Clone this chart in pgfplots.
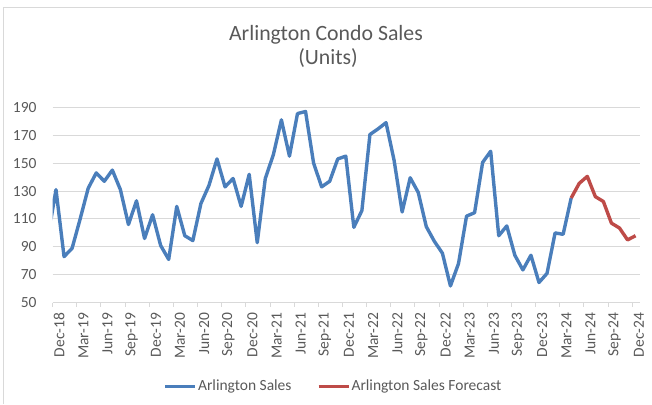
\documentclass[border=0pt]{standalone}
\usepackage{fontspec}
\setmainfont{Carlito}
\usepackage{pgfplots}
\usepackage{pgfplotstable}
\pgfplotsset{compat=1.18}
\definecolor{sblue}{HTML}{4A7EBB}
\definecolor{sred}{HTML}{BE4B48}
\definecolor{gridgray}{HTML}{D9D9D9}
\definecolor{textgray}{HTML}{595959}

% month index: Dec-18 = 0
\pgfplotstableread{
m v
-1 97
0 131
1 83
2 89
3 110
4 132
5 143
6 137
7 145
8 131
9 106
10 123
11 96
12 113
13 91
14 81
15 119
16 98
17 94.5
18 121
19 134
20 153
21 133
22 139
23 119
24 142
25 93
26 139
27 156
28 181
29 155
30 185.5
31 187
32 150
33 133
34 137
35 153
36 155
37 104
38 116
39 170.5
40 174.5
41 179
42 152
43 115
44 139.5
45 129
46 104.5
47 94
48 85.5
49 62
50 78
51 112
52 114.5
53 150.5
54 158.5
55 98
56 105
57 84
58 73.5
59 84
60 64.5
61 71
62 100
63 99
64 125
}\sales

\pgfplotstableread{
m v
64 125
65 135.5
66 140.5
67 126
68 122.5
69 107
70 103.5
71 95
72 98
}\forecast

\begin{document}
\begin{tikzpicture}[x=1pt,y=1pt]
\useasboundingbox (0,0) rectangle (652,404);
\draw[gridgray, line width=1.2pt] (3.3,0) -- (3.3,396.7) -- (652,396.7);
\node[font=\fontsize{21.8}{26}\selectfont, text=textgray, anchor=base, inner sep=0pt] at (326,363.3) {Arlington Condo Sales};
\node[font=\fontsize{21.8}{26}\selectfont, text=textgray, anchor=base, inner sep=0pt] at (328,339) {(Units)};
\begin{axis}[
  at={(52.7pt,101.3pt)}, anchor=south west,
  scale only axis, width=587.3pt, height=195.4pt,
  xmin=-0.41, xmax=72.55, ymin=50, ymax=190,
  axis x line*=bottom, axis y line*=left,
  x axis line style={draw=gridgray, line width=1pt, -},
  y axis line style={draw=none, -},
  ytick={50,70,...,190},
  ymajorgrids, grid style={draw=gridgray, line width=1pt},
  ytick style={draw=none},
  xtick={0.4,3.4,...,72.4},
  xticklabels={Dec-18,Mar-19,Jun-19,Sep-19,Dec-19,Mar-20,Jun-20,Sep-20,Dec-20,Mar-21,Jun-21,Sep-21,Dec-21,Mar-22,Jun-22,Sep-22,Dec-22,Mar-23,Jun-23,Sep-23,Dec-23,Mar-24,Jun-24,Sep-24,Dec-24},
  xtick style={draw=none},
  major tick length=0pt,
  extra x ticks={-0.41,2.59,...,71.59},
  extra x tick labels={},
  extra x tick style={major tick length=4pt, tick align=outside, xtick style={draw=gridgray, line width=1pt}},
  /pgf/number format/assume math mode=true,
  tick label style={font=\fontsize{15.5}{18}\selectfont, text=textgray},
  xticklabel style={rotate=90, anchor=east, inner sep=0pt},
  xticklabel shift=10pt,
  yticklabel style={anchor=east, inner sep=0pt},
  yticklabel shift=16pt,
  legend columns=2,
  legend style={at={(axis description cs:0.1885,-0.4265)}, anchor=west, draw=none, fill=none,
    inner sep=0pt, font=\fontsize{15.5}{18}\selectfont, text=textgray,
    nodes={inner sep=1.5pt},
    /tikz/every even column/.append style={column sep=24pt}},
  legend image code/.code={\draw[#1, line width=3pt] (0pt,0pt) -- (30pt,0pt);},
]
\addplot[sblue, line width=3.4pt, line join=round] table[x=m, y=v] {\sales};
\addlegendentry{Arlington Sales}
\addplot[sred, line width=3.4pt, line join=round] table[x=m, y=v] {\forecast};
\addlegendentry{Arlington Sales Forecast}
\end{axis}
\end{tikzpicture}
\end{document}
